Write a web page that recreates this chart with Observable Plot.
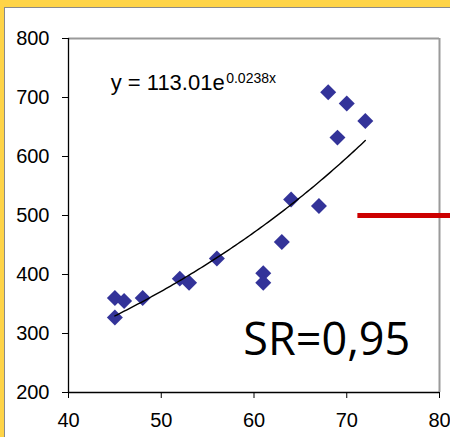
<!DOCTYPE html>
<html>
<head>
<meta charset="utf-8">
<script src="https://cdn.jsdelivr.net/npm/d3@7"></script>
<script src="https://cdn.jsdelivr.net/npm/@observablehq/plot@0.6"></script>
<style>
  html, body { margin: 0; padding: 0; }
  body { width: 450px; height: 437px; background: #FFD447; position: relative; overflow: hidden; }
  #panel { position: absolute; left: 4px; top: 7px; width: 460px; height: 450px; background: #fff;
           border-left: 1px solid #8a8a8a; border-top: 1px solid #8a8a8a; }
  #chart { position: absolute; left: 0; top: 0; }
</style>
</head>
<body>
<div id="panel"></div>
<div id="chart"></div>
<script>
// Data
const xValues = [45, 45, 46, 48, 52, 53, 56, 61, 61, 63, 64, 67, 68, 69, 70, 72];
const yValues = [327, 360, 355, 360, 393, 386, 427, 402, 386, 455, 527, 516, 709, 632, 690, 660];
const xTicks = [40, 50, 60, 70, 80];
const yTicks = [200, 300, 400, 500, 600, 700, 800];
// Trend line from the equation shown: y = 113.01 e^(0.0238x), drawn over the data's x range
const trendA = 113.01;
const trendB = 0.0238;
const equationMain = ["y = 113.01e"];
const equationExp = ["0.0238x"];
const srLabel = ["SR=0,95"];
const markerLevel = [500];

const points = xValues.map((x, i) => ({x, y: yValues[i]}));
const xMin = d3.min(xValues), xMax = d3.max(xValues);
const trend = d3.range(xMin, xMax + 0.001, 0.25).map(x => ({x, y: trendA * Math.exp(trendB * x)}));

const chart = Plot.plot({
  width: 450,
  height: 437,
  marginLeft: 68,
  marginRight: 11,
  marginTop: 38,
  marginBottom: 45,
  style: {background: "transparent", color: "#000", fontFamily: "'Liberation Sans', Arial, sans-serif", fontSize: "20px"},
  x: {domain: [40, 80]},
  y: {domain: [200, 800]},
  marks: [
    Plot.ruleY([800], {stroke: "#9a9a9a", strokeWidth: 2}),
    Plot.ruleX([80], {stroke: "#9a9a9a", strokeWidth: 2}),
    Plot.ruleX([40], {stroke: "#000", strokeWidth: 1.3}),
    Plot.ruleY([200], {stroke: "#000", strokeWidth: 1.3}),
    Plot.axisX({ticks: xTicks, tickSize: 6, tickPadding: 14, label: null, stroke: "#000", fontSize: 20}),
    Plot.axisY({ticks: yTicks, tickSize: 6, tickPadding: 13, label: null, stroke: "#000", fontSize: 20}),
    Plot.dot(points, {x: "x", y: "y", symbol: "diamond2", r: 7.2, fill: "#333399", stroke: "none"}),
    Plot.line(trend, {x: "x", y: "y", stroke: "#000", strokeWidth: 1.4, curve: "linear"}),
    Plot.text(equationMain, {x: 44.55, y: 713, text: d => d, textAnchor: "start", lineAnchor: "bottom", fontSize: 22, fill: "#000"}),
    Plot.text(equationExp, {x: 57.0, y: 724, text: d => d, textAnchor: "start", lineAnchor: "bottom", fontSize: 14, fill: "#000"}),
    Plot.text(srLabel, {x: 67.85, y: 288, text: d => d, textAnchor: "middle", lineAnchor: "middle", fontSize: 45, fontFamily: "'Open Sans', sans-serif", fill: "#000"}),
    Plot.ruleY(markerLevel, {x1: 71.2, x2: 81.6, stroke: "#CC0000", strokeWidth: 5})
  ]
});
document.getElementById("chart").appendChild(chart);
</script>
</body>
</html>
